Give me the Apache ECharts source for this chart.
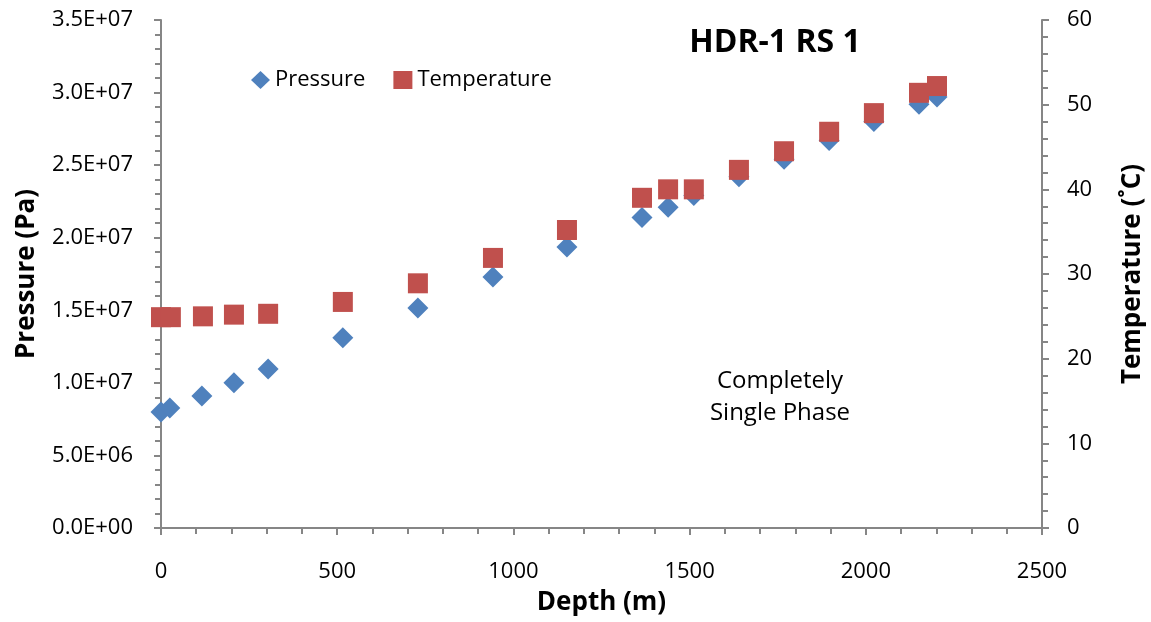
<!DOCTYPE html>
<html><head><meta charset="utf-8">
<script src="https://cdn.jsdelivr.net/npm/echarts@6/dist/echarts.min.js"></script>
<style>html,body{margin:0;padding:0;background:#fff}#c{width:1151px;height:622px}</style>
</head><body><div id="c"></div>
<script>
const depthP = [0, 25, 116, 207, 304, 516, 729, 942, 1152, 1365, 1439, 1512, 1640, 1768, 1896, 2023, 2151, 2202];
const pressure = [8.0e6, 8.27e6, 9.1e6, 1.0e7, 1.095e7, 1.31e7, 1.516e7, 1.73e7, 1.936e7, 2.14e7, 2.21e7, 2.29e7, 2.42e7, 2.54e7, 2.67e7, 2.80e7, 2.92e7, 2.97e7];
const depthT = [0, 28, 119, 207, 304, 516, 729, 942, 1152, 1365, 1439, 1512, 1640, 1768, 1896, 2023, 2151, 2202];
const temperature = [24.9, 24.9, 25.0, 25.2, 25.3, 26.7, 28.9, 31.9, 35.2, 39.0, 40.0, 40.0, 42.3, 44.5, 46.8, 49.0, 51.4, 52.2];
const seriesNames = ['Pressure', 'Temperature'];
const titleText = 'HDR-1 RS 1';
const noteText = 'Completely\nSingle Phase';

const FONT = '"Open Sans", sans-serif';
const axisGray = '#868686';
const chart = echarts.init(document.getElementById('c'));
function sci(v){
  if (v === 0) return '0.0E+00';
  const e = Math.floor(Math.log10(Math.abs(v)) + 1e-9);
  const m = v / Math.pow(10, e);
  return m.toFixed(1) + 'E+' + String(e).padStart(2, '0');
}
const axisName = {fontFamily: FONT, fontSize: 26, fontWeight: 'bold', color: '#000'};
const tickLbl = {fontSize: 22, color: '#000', fontFamily: FONT};
chart.setOption({
  animation: false,
  backgroundColor: '#fff',
  textStyle: {fontFamily: FONT},
  grid: {left: 161, right: 109, top: 20, bottom: 94, outerBoundsMode: 'none', containLabel: false},
  title: {text: titleText, left: 770, top: 22, textAlign: 'center',
    textStyle: {fontFamily: FONT, fontSize: 32, fontWeight: 'bold', color: '#000'}},
  graphic: [{type: 'text', style: {text: noteText, x: 780, y: 365, textAlign: 'center',
    font: '24px ' + FONT, fill: '#000', lineHeight: 32}}],
  legend: {left: 246, top: 64, itemGap: 28, itemWidth: 19, itemHeight: 18,
    textStyle: {fontFamily: FONT, fontSize: 22, color: '#000'},
    data: [{name: seriesNames[0], icon: 'diamond'}, {name: seriesNames[1], icon: 'rect'}]},
  xAxis: {type: 'value', min: 0, max: 2500, interval: 500,
    name: 'Depth (m)', nameLocation: 'middle', nameGap: 62, nameTextStyle: axisName,
    axisLine: {onZero: false, lineStyle: {color: axisGray, width: 2}},
    axisTick: {show: true, length: 7, lineStyle: {color: axisGray, width: 2}},
    minorTick: {show: true, splitNumber: 5, length: 6, lineStyle: {color: axisGray, width: 2}},
    splitLine: {show: false},
    axisLabel: Object.assign({margin: 33, formatter: v => String(v)}, tickLbl)},
  yAxis: [
    {type: 'value', min: 0, max: 3.5e7, interval: 5e6, position: 'left',
      name: 'Pressure (Pa)', nameLocation: 'middle', nameGap: 121, nameRotate: 90, nameTextStyle: axisName,
      axisLine: {show: true, lineStyle: {color: axisGray, width: 2}},
      axisTick: {show: true, length: 7, lineStyle: {color: axisGray, width: 2}},
      minorTick: {show: true, splitNumber: 5, length: 6, lineStyle: {color: axisGray, width: 2}},
      splitLine: {show: false},
      axisLabel: Object.assign({margin: 28, formatter: sci}, tickLbl)},
    {type: 'value', min: 0, max: 60, interval: 10, position: 'right',
      name: 'Temperature (˚C)', nameLocation: 'middle', nameGap: 78, nameRotate: 90, nameTextStyle: axisName,
      axisLine: {show: true, lineStyle: {color: axisGray, width: 2}},
      axisTick: {show: true, length: 7, lineStyle: {color: axisGray, width: 2}},
      minorTick: {show: true, splitNumber: 5, length: 6, lineStyle: {color: axisGray, width: 2}},
      splitLine: {show: false},
      axisLabel: Object.assign({margin: 25}, tickLbl)}
  ],
  series: [
    {name: seriesNames[0], type: 'scatter', yAxisIndex: 0, symbol: 'diamond', symbolSize: 21,
      itemStyle: {color: '#4F81BD', opacity: 1},
      data: depthP.map((d, i) => [d, pressure[i]]), z: 2},
    {name: seriesNames[1], type: 'scatter', yAxisIndex: 1, symbol: 'rect', symbolSize: 20,
      itemStyle: {color: '#C0504D', opacity: 1},
      data: depthT.map((d, i) => [d, temperature[i]]), z: 3}
  ]
});
</script></body></html>
